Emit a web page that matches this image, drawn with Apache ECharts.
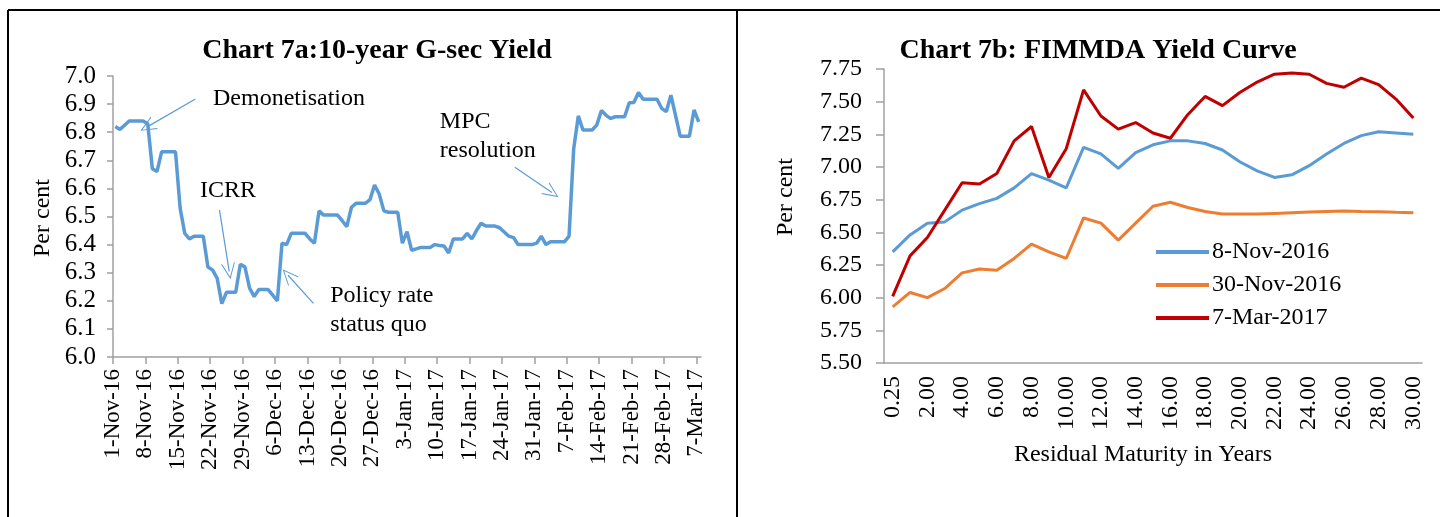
<!DOCTYPE html>
<html>
<head>
<meta charset="utf-8">
<script src="https://cdn.jsdelivr.net/npm/echarts@6/dist/echarts.min.js"></script>
<style>
  html, body { margin: 0; padding: 0; background: #fff; }
  #main { width: 1440px; height: 517px; }
</style>
</head>
<body>
<div id="main"></div>
<script>
// ---- Chart 7a: daily 10-year G-sec yield, one value per calendar day from 1-Nov-16 to 7-Mar-17
var yieldValues = [
  6.82, 6.81, 6.825, 6.84, 6.84, 6.84, 6.84, 6.83, 6.67, 6.66,          // 1-10 Nov
  6.73, 6.73, 6.73, 6.73, 6.53, 6.44, 6.42, 6.43, 6.43, 6.43,           // 11-20 Nov
  6.32, 6.31, 6.28, 6.19, 6.23, 6.23, 6.23, 6.33, 6.32, 6.245,          // 21-30 Nov
  6.215, 6.24, 6.24, 6.24, 6.22, 6.20, 6.405, 6.40, 6.44, 6.44,         // 1-10 Dec
  6.44, 6.44, 6.42, 6.405, 6.52, 6.505, 6.505, 6.505, 6.505, 6.485,     // 11-20 Dec
  6.464, 6.533, 6.547, 6.547, 6.547, 6.56, 6.612, 6.58, 6.52, 6.515,    // 21-30 Dec
  6.515, 6.515, 6.405, 6.446, 6.38, 6.385, 6.39, 6.39, 6.39, 6.40,      // 31 Dec - 9 Jan
  6.397, 6.395, 6.37, 6.42, 6.42, 6.42, 6.44, 6.42, 6.45, 6.476,        // 10-19 Jan
  6.466, 6.466, 6.466, 6.46, 6.445, 6.43, 6.425, 6.40, 6.40, 6.40,      // 20-29 Jan
  6.40, 6.405, 6.43, 6.40, 6.41, 6.41, 6.41, 6.41, 6.43, 6.74,          // 30 Jan - 8 Feb
  6.858, 6.808, 6.808, 6.808, 6.826, 6.877, 6.86, 6.849, 6.855, 6.855,  // 9-18 Feb
  6.855, 6.905, 6.906, 6.941, 6.917, 6.917, 6.917, 6.917, 6.885, 6.873, // 19-28 Feb
  6.932, 6.86, 6.786, 6.786, 6.786, 6.879, 6.837                       // 1-7 Mar
];
var dateTickLabels = ['1-Nov-16', '8-Nov-16', '15-Nov-16', '22-Nov-16', '29-Nov-16', '6-Dec-16',
  '13-Dec-16', '20-Dec-16', '27-Dec-16', '3-Jan-17', '10-Jan-17', '17-Jan-17', '24-Jan-17',
  '31-Jan-17', '7-Feb-17', '14-Feb-17', '21-Feb-17', '28-Feb-17', '7-Mar-17'];

// ---- Chart 7b: FIMMDA yield curve
var maturities = [0.25, 1, 2, 3, 4, 5, 6, 7, 8, 9, 10, 11, 12, 13, 14, 15, 16, 17, 18, 19, 20,
  21, 22, 23, 24, 25, 26, 27, 28, 29, 30];
var curveNov8 = [6.35, 6.48, 6.57, 6.58, 6.67, 6.72, 6.76, 6.84, 6.95, 6.90, 6.84, 7.15, 7.10,
  6.99, 7.11, 7.17, 7.20, 7.20, 7.18, 7.13, 7.04, 6.97, 6.92, 6.94, 7.01, 7.10, 7.18, 7.24,
  7.27, 7.26, 7.25];
var curveNov30 = [5.93, 6.04, 6.00, 6.07, 6.19, 6.22, 6.21, 6.30, 6.41, 6.35, 6.30, 6.61, 6.57,
  6.44, 6.57, 6.70, 6.73, 6.69, 6.66, 6.64, 6.64, 6.64, 6.645, 6.65, 6.655, 6.66, 6.663, 6.66,
  6.658, 6.653, 6.65];
var curveMar7 = [6.01, 6.32, 6.46, 6.67, 6.88, 6.87, 6.95, 7.20, 7.31, 6.92, 7.14, 7.59, 7.39,
  7.29, 7.34, 7.26, 7.22, 7.40, 7.54, 7.47, 7.57, 7.65, 7.71, 7.72, 7.71, 7.64, 7.61, 7.68,
  7.63, 7.52, 7.375];
var curveNames = ['8-Nov-2016', '30-Nov-2016', '7-Mar-2017'];

var font = 'Liberation Serif';
var axisGray = '#a0a0a0';
var blue = '#5B9BD5';

// annotations on chart 7a: [day, value] of text anchor and arrow ends
var notes = [
  { text: 'Demonetisation', at: [21.6, 6.918], from: [17.8, 6.918], to: [7.4, 6.819] },
  { text: 'ICRR', at: [18.8, 6.591], from: [23.0, 6.523], to: [25.1, 6.305] },
  { text: 'Policy rate\nstatus quo', at: [46.9, 6.165], from: [43.3, 6.191], to: [37.8, 6.291] },
  { text: 'MPC\nresolution', at: [70.6, 6.786], from: [86.8, 6.675], to: [94.8, 6.585] }
];
var chevron = 'path://M8,0 L16,16 L14.8,16 L8,2.4 L1.2,16 L0,16 Z';

var tickDays = dateTickLabels.map(function (_, i) { return i * 7; });
var yieldData = yieldValues.map(function (v, i) { return [i + 0.5, v]; });

var chart = echarts.init(document.getElementById('main'));
var option = {
  animation: false,
  title: [
    { text: 'Chart 7a:10-year G-sec Yield', left: 372, top: 32, textAlign: 'center',
      textStyle: { fontFamily: font, fontSize: 28, fontWeight: 'bold', color: '#000' } },
    { text: 'Chart 7b: FIMMDA Yield Curve', left: 1093, top: 32, textAlign: 'center',
      textStyle: { fontFamily: font, fontSize: 28, fontWeight: 'bold', color: '#000' } }
  ],
  legend: {
    orient: 'vertical',
    left: 1151,
    top: 235,
    itemWidth: 53,
    itemHeight: 4,
    itemGap: 9,
    icon: 'rect',
    data: curveNames,
    textStyle: { fontFamily: font, fontSize: 24, color: '#000', lineHeight: 24, padding: [0, 0, 0, -2] }
  },
  grid: [
    { left: 113, top: 76, width: 588, height: 281 },
    { left: 884, top: 69, width: 538, height: 294 }
  ],
  xAxis: [
    {
      gridIndex: 0, type: 'value', min: 0, max: 127,
      axisLine: { lineStyle: { color: axisGray, width: 1.5 } },
      axisTick: { customValues: tickDays, length: 7, lineStyle: { color: axisGray, width: 1.5 } },
      axisLabel: {
        customValues: tickDays, rotate: 90, margin: 12,
        fontFamily: font, fontSize: 23, color: '#000',
        formatter: function (v) { return dateTickLabels[Math.round(v / 7)]; }
      },
      splitLine: { show: false }
    },
    {
      gridIndex: 1, type: 'category', data: maturities, boundaryGap: true,
      axisLine: { lineStyle: { color: axisGray, width: 1.5 } },
      axisTick: { interval: 0, length: 7, lineStyle: { color: axisGray, width: 1.5 } },
      axisLabel: {
        interval: 1, rotate: 90, margin: 13,
        fontFamily: font, fontSize: 24, color: '#000',
        formatter: function (v) { return Number(v).toFixed(2); }
      },
      splitLine: { show: false }
    }
  ],
  yAxis: [
    {
      gridIndex: 0, type: 'value', min: 6, max: 7, interval: 0.1,
      axisLine: { show: true, lineStyle: { color: axisGray, width: 1.5 } },
      axisTick: { show: true, length: 6, lineStyle: { color: axisGray, width: 1.5 } },
      axisLabel: { margin: 17, fontFamily: font, fontSize: 25, color: '#000',
        formatter: function (v) { return v.toFixed(1); } },
      splitLine: { show: false }
    },
    {
      gridIndex: 1, type: 'value', min: 5.5, max: 7.75, interval: 0.25,
      axisLine: { show: true, lineStyle: { color: axisGray, width: 1.5 } },
      axisTick: { show: true, length: 8, lineStyle: { color: axisGray, width: 1.5 } },
      axisLabel: { margin: 22, fontFamily: font, fontSize: 24, color: '#000',
        formatter: function (v) { return v.toFixed(2); } },
      splitLine: { show: false }
    }
  ],
  series: [
    {
      name: '10-year G-sec', type: 'line', xAxisIndex: 0, yAxisIndex: 0,
      data: yieldData, showSymbol: false, symbol: 'none',
      lineStyle: { color: blue, width: 3.5 },
      markPoint: {
        symbol: 'circle', symbolSize: 0, silent: true,
        label: { show: true, position: 'right', distance: 0, formatter: '{b}',
          fontFamily: font, fontSize: 24, color: '#000', lineHeight: 29 },
        data: notes.map(function (n) { return { name: n.text, coord: n.at }; })
      },
      markLine: {
        silent: true, symbol: ['none', chevron], symbolSize: [14, 16],
        label: { show: false },
        lineStyle: { type: 'solid', color: blue, width: 1.2 },
        data: notes.map(function (n) { return [{ coord: n.from }, { coord: n.to }]; })
      }
    },
    {
      name: curveNames[0], type: 'line', xAxisIndex: 1, yAxisIndex: 1,
      data: curveNov8, symbol: 'none', itemStyle: { color: blue },
      lineStyle: { color: blue, width: 3 }
    },
    {
      name: curveNames[1], type: 'line', xAxisIndex: 1, yAxisIndex: 1,
      data: curveNov30, symbol: 'none', itemStyle: { color: '#ED7D31' },
      lineStyle: { color: '#ED7D31', width: 3 }
    },
    {
      name: curveNames[2], type: 'line', xAxisIndex: 1, yAxisIndex: 1,
      data: curveMar7, symbol: 'none', itemStyle: { color: '#C00000' },
      lineStyle: { color: '#C00000', width: 3 }
    }
  ],
  graphic: [
    // panel frame
    { type: 'line', shape: { x1: 8, y1: 10, x2: 1440, y2: 10 }, style: { stroke: '#000', lineWidth: 2 } },
    { type: 'line', shape: { x1: 8, y1: 10, x2: 8, y2: 517 }, style: { stroke: '#000', lineWidth: 2 } },
    { type: 'line', shape: { x1: 737, y1: 10, x2: 737, y2: 517 }, style: { stroke: '#000', lineWidth: 2 } },
    // axis titles
    { type: 'text', x: 43, y: 218, rotation: Math.PI / 2,
      style: { text: 'Per cent', font: '24px "Liberation Serif"', fill: '#000', align: 'center', verticalAlign: 'middle' } },
    { type: 'text', x: 786, y: 197, rotation: Math.PI / 2,
      style: { text: 'Per cent', font: '24px "Liberation Serif"', fill: '#000', align: 'center', verticalAlign: 'middle' } },
    { type: 'text', x: 1143, y: 455,
      style: { text: 'Residual Maturity in Years', font: '24px "Liberation Serif"', fill: '#000', align: 'center', verticalAlign: 'middle' } }
  ]
};
chart.setOption(option);
</script>
</body>
</html>
